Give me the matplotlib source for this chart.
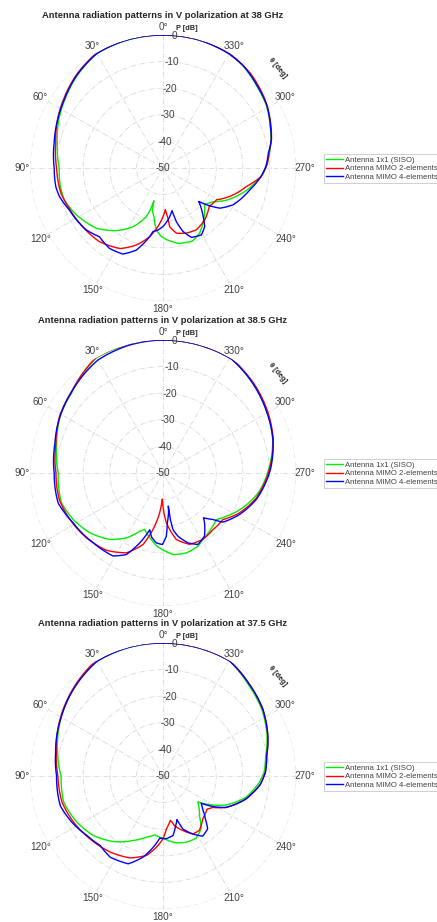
import numpy as np
import matplotlib
matplotlib.use("Agg")
import matplotlib.pyplot as plt

plt.rcParams['font.family'] = ['Liberation Sans', 'DejaVu Sans']
plt.rcParams['axes.unicode_minus'] = False

# ---- data: angle [deg] and power [dB] ----
freqs = ["38", "38.5", "37.5"]
legend_labels = ["Antenna 1x1 (SISO)", "Antenna MIMO 2-elements", "Antenna MIMO 4-elements"]
colors = ["#00ee00", "#ff0000", "#0000ff"]

# 38 GHz
th_siso_38 = [0, 15, 30, 43, 55, 65, 77, 90, 100, 108, 118, 132, 143, 153, 158, 161, 163, 164.5, 166,
              169.5, 172, 175, 178, 183, 192, 202, 209, 218, 229, 236, 243, 255, 267, 276, 285, 291,
              301, 311, 322, 330, 345, 360]
db_siso_38 = [0, -0.1, -0.3, -2.6, -5.0, -6.8, -9.2, -11.0, -10.8, -11.0, -12.9, -16.2, -20.5, -25.2, -28.5,
              -30.7, -33.5, -37.2, -33.5, -31.4, -28.5, -26.0, -24.5, -23.0, -21.0, -20.4, -21.8, -25.2,
              -29.3, -27.3, -23.3, -17.5, -12.2, -10.0, -8.0, -6.8, -4.6, -3.2, -1.2, -0.4, 0, 0]
th_mimo2_38 = [0, 15, 30, 43, 55, 65, 77, 90, 104, 113, 126, 139, 152, 161, 169, 175, 180, 183.2, 185.7,
               186.5, 191.6, 199.7, 208.4, 219, 230.2, 239.3, 247, 257.6, 265, 272, 278, 285, 291, 304,
               317, 330, 345, 360]
db_mimo2_38 = [0, 0.1, -0.1, -2.2, -4.5, -6.3, -8.6, -10.0, -10.5, -11.6, -12.6, -13.4, -15.7, -19.4, -23.7,
               -27.9, -31.7, -34.3, -31.0, -27.8, -25.0, -24.0, -23.6, -25.0, -27.4, -26.6, -22.7, -17.8,
               -13.0, -10.8, -9.8, -7.8, -6.5, -3.8, -1.6, -0.3, 0, 0]
th_mimo4_38 = [0, 15, 30, 43, 55, 65, 77, 90, 100, 105.3, 114, 128.8, 137.2, 146.3, 155, 161.9, 169, 171,
               175, 180, 185.5, 192, 194, 197.5, 202.3, 209.9, 215.5, 219.6, 226.9, 229.8, 234.8, 242.4,
               256, 265, 271, 278, 285, 291, 301, 311, 322, 330, 345, 360]
db_mimo4_38 = [0, 0, -0.3, -2.4, -4.8, -6.4, -8.0, -9.1, -9.1, -9.6, -11.4, -12.9, -14.8, -13.7, -14.3,
               -17.5, -23.7, -25.8, -26.5, -28.0, -30.4, -33.6, -29.2, -25.0, -21.8, -21.0, -23.0, -26.3,
               -31.6, -28.6, -23.8, -20.2, -16.3, -13.0, -11.3, -10.0, -7.8, -6.7, -4.4, -3.0, -1.1,
               -0.4, 0, 0]

# 38.5 GHz
th_siso_385 = [0, 15, 30, 49, 61, 75, 90, 106.4, 117.4, 129.3, 141.3, 150.6, 158.2, 162, 170, 175, 187,
               196.3, 205.5, 211, 218.7, 228.8, 235.6, 246.4, 259.3, 273.6, 286.9, 301.5, 315, 329, 345, 360]
db_siso_385 = [0, 0, 0, -4.4, -5.8, -8.6, -10.6, -10.2, -12.0, -14.5, -18.0, -22.0, -26.4, -27.7, -24.6,
               -22.5, -19.1, -18.7, -19.5, -20.9, -22.0, -23.4, -21.2, -17.3, -13.1, -9.9, -6.9, -4.5,
               -2.3, 0, 0, 0]
th_mimo2_385 = [0, 15, 30, 49, 61, 75, 90, 104.4, 116.6, 130.3, 143.8, 155.4, 164.4, 171.1, 175.2, 178.5,
                181.4, 183.8, 191.3, 200.4, 211, 221.4, 232.1, 242.4, 255, 271.8, 286.9, 301.5, 315, 329,
                345, 360]
db_mimo2_385 = [0, 0.2, 0.2, -4.2, -5.6, -8.3, -9.75, -9.75, -10.9, -12.3, -14.0, -17.0, -22.1, -29.8,
                -35.0, -40.2, -35.0, -31.3, -24.5, -21.4, -20.9, -21.6, -21.5, -17.6, -13.7, -10.0, -6.7,
                -4.2, -2.0, 0, 0, 0]
th_mimo4_385 = [0, 15, 30, 45, 61, 75, 90, 106, 119, 135, 149, 155.8, 161.6, 166.8, 170, 174.6, 179.5,
                183, 185, 188, 189.1, 189, 190, 193.3, 199.7, 206, 213.3, 219.8, 222.1, 227, 230.6, 241.5,
                254, 271.8, 286.9, 301.5, 315, 329, 345, 360]
db_mimo4_385 = [0, -0.3, -1.0, -3.5, -5.8, -7.9, -9.1, -9.0, -11.4, -12.9, -13.6, -16.4, -22.3, -28.1,
                -25.5, -23.6, -23.1, -26.2, -31.2, -35.0, -37.4, -32.3, -28.4, -25.6, -22.1, -20.1, -21.6,
                -25.6, -27.3, -24.4, -20.9, -17.3, -13.6, -9.6, -6.8, -4.6, -2.3, 0, 0, 0]

# 37.5 GHz
th_siso_375 = [0, 15, 30, 48, 60, 78, 90, 105, 118.3, 130.6, 142.9, 155.2, 164.9, 172, 180, 191.2, 199.3,
               208, 215.7, 222.5, 233.4, 236.8, 245.2, 255.4, 266, 272, 281, 291, 304, 317, 330, 345, 360]
db_siso_375 = [0, 0, 0, -3.5, -5.8, -9.5, -11.7, -11.4, -13.3, -15.6, -19.1, -23.3, -26.2, -27.6, -26.6,
               -24.4, -23.6, -23.5, -25.5, -29.7, -33.7, -30.7, -24.0, -17.9, -13.8, -12.0, -10.7, -8.1,
               -5.2, -3.0, 0, 0, 0]
th_mimo2_375 = [0, 15, 30, 48, 60, 78, 90, 104.7, 117.4, 130.8, 145.2, 158, 168.2, 174.7, 180, 183.6,
                189.3, 191.3, 193.1, 200, 207.2, 213.7, 222.7, 232.9, 237.7, 243.4, 254.4, 265, 272, 281,
                291, 304, 317, 330, 345, 360]
db_mimo2_375 = [0, 0.2, 0.2, -3.3, -5.6, -9.0, -10.5, -10.8, -12.2, -13.8, -15.2, -16.8, -19.5, -23.1,
                -26.4, -30.0, -33.1, -32.2, -30.8, -28.2, -25.5, -25.4, -28.0, -29.3, -27.9, -23.6, -17.7,
                -13.3, -11.5, -10.3, -7.8, -4.8, -2.6, 0, 0, 0]
th_mimo4_375 = [0, 15, 30, 48, 60, 77.8, 90, 106.2, 117, 128, 137.9, 146.9, 158.4, 166.2, 173.2, 177, 183,
                189.5, 194, 197.7, 200.6, 207.2, 213.4, 220.2, 224.6, 230, 234.5, 238.5, 243.4, 254.4,
                265, 272, 281, 291, 304, 317, 330, 345, 360]
db_mimo4_375 = [0, 0, -0.3, -3.5, -5.8, -8.7, -10.0, -9.8, -11.6, -13.7, -14.8, -13.6, -14.5, -18.6,
                -23.7, -26.6, -26.4, -27.3, -30.5, -32.8, -28.7, -25.5, -22.9, -24.0, -27.3, -30.5, -32.4,
                -28.0, -23.6, -17.7, -13.3, -11.5, -10.3, -7.8, -4.8, -2.6, 0, 0, 0]

theta_ticks = list(range(0, 360, 30))
r_ticks = [0, -10, -20, -30, -40, -50]

datasets = [
    [(th_siso_38, db_siso_38), (th_mimo2_38, db_mimo2_38), (th_mimo4_38, db_mimo4_38)],
    [(th_siso_385, db_siso_385), (th_mimo2_385, db_mimo2_385), (th_mimo4_385, db_mimo4_385)],
    [(th_siso_375, db_siso_375), (th_mimo2_375, db_mimo2_375), (th_mimo4_375, db_mimo4_375)],
]

fig = plt.figure(figsize=(4.37, 9.22), dpi=100)
fig.patch.set_facecolor("white")

# centre (px from top) of each polar plot, radius 133 px
centers_y = [168, 473, 776]
W, H = 437, 922
R = 133

for freq, curves, cy in zip(freqs, datasets, centers_y):
    ax = fig.add_axes([(163 - R) / W, (H - cy - R) / H, 2 * R / W, 2 * R / H], projection="polar")
    ax.set_theta_zero_location("N")
    ax.set_theta_direction(1)
    ax.set_rlim(-50, 0)

    for (th, db), c, lab in zip(curves, colors, legend_labels):
        line, = ax.plot(np.deg2rad(th), db, color=c, lw=1.0, label=lab)
        # draw each segment along the polar grid (theta/r) instead of a straight chord
        line.get_path()._interpolation_steps = 40

    ax.set_thetagrids(theta_ticks, [f"{t}°" for t in theta_ticks])
    ax.set_rgrids(r_ticks, [""] * len(r_ticks))
    for v in r_ticks:
        ax.text(np.deg2rad(-5), v, str(v), ha="center", va="center", fontsize=7.2,
                color="#404040", zorder=5)
    ax.tick_params(axis="x", labelsize=7.2, labelcolor="#404040", pad=-4.5)
    ax.grid(True, color="#d8d8d8", lw=0.6, linestyle=(0, (6, 2, 1, 2)))
    ax.spines["polar"].set_visible(False)

    ax.text(0.5, 1.075, f"Antenna radiation patterns in V polarization at {freq} GHz",
            transform=ax.transAxes, ha="center", va="center", fontsize=6.75,
            fontweight="bold", color="#262626")
    ax.text(0.59, 1.026, "P [dB]", transform=ax.transAxes, ha="center", va="center",
            fontsize=5.3, fontweight="bold", color="#262626")
    ax.text(0.93, 0.876, "θ [deg]", transform=ax.transAxes, ha="center", va="center",
            fontsize=5.3, fontweight="bold", color="#262626", rotation=-50)

    leg = ax.legend(loc="upper left", bbox_to_anchor=(1.105, 0.553), fontsize=5.6,
                    frameon=True, fancybox=False, framealpha=1, edgecolor="#c8c8c8",
                    handlelength=2.2, handletextpad=0.2, labelspacing=0.15, borderpad=0.3,
                    borderaxespad=0)
    leg.get_frame().set_linewidth(0.6)
    for t in leg.get_texts():
        t.set_color("#404040")

fig.savefig("out.png", dpi=100, facecolor="white")
